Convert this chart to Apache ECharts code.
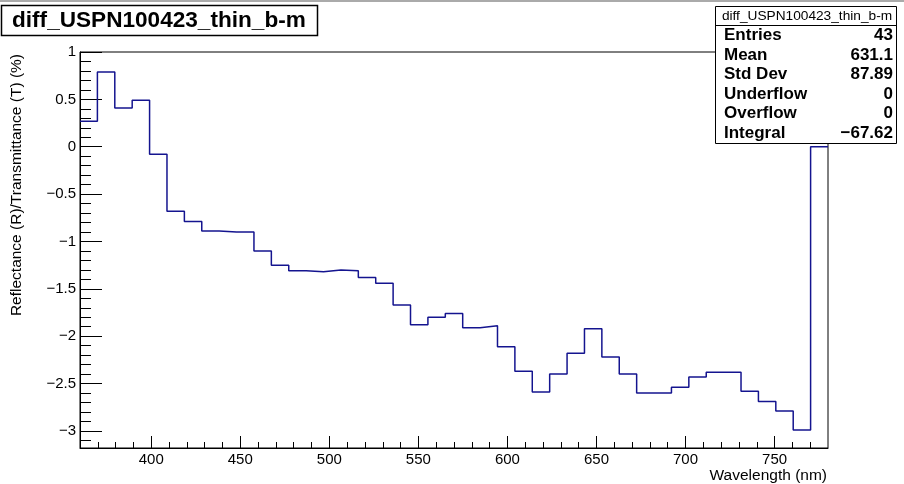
<!DOCTYPE html>
<html>
<head>
<meta charset="utf-8">
<title>diff_USPN100423_thin_b-m</title>
<script src="https://cdn.jsdelivr.net/npm/echarts@6/dist/echarts.min.js"></script>
<style>
  html, body { margin: 0; padding: 0; background: #fff; }
  #chart { width: 904px; height: 484px; }
</style>
</head>
<body>
<div id="chart"></div>
<script>
// histogram binning: 43 equal bins between these edges (nm)
const binLow = 360
const binHigh = 780
const binValues = [
  0.27, 0.79, 0.41, 0.49, -0.08, -0.68, -0.79, -0.89, -0.90, -0.90,
  -1.10, -1.25, -1.31, -1.32, -1.30, -1.31, -1.38, -1.44, -1.67, -1.88,
  -1.80, -1.76, -1.91, -1.89, -2.11, -2.37, -2.59, -2.40, -2.18, -1.92,
  -2.22, -2.40, -2.60, -2.60, -2.54, -2.43, -2.38, -2.38, -2.58, -2.69,
  -2.79, -2.99, 0
]

const yMin = -3.18
const yMax = 1

const xMajorTicks = [400, 450, 500, 550, 600, 650, 700, 750]
const xMinorTicks = [370, 380, 390, 410, 420, 430, 440, 460, 470, 480, 490,
  510, 520, 530, 540, 560, 570, 580, 590, 610, 620, 630, 640, 660, 670, 680,
  690, 710, 720, 730, 740, 760, 770]
const yMajorTicks = [-3, -2.5, -2, -1.5, -1, -0.5, 0, 0.5, 1]

const histName = 'diff_USPN100423_thin_b-m'
const statNames = ['Entries', 'Mean', 'Std Dev', 'Underflow', 'Overflow', 'Integral']
const statValues = ['43', '631.1', '87.89', '0', '0', '\u221267.62']

const xTitle = 'Wavelength (nm)'
const yTitle = 'Reflectance (R)/Transmittance (T) (%)'

const FONT = "'Liberation Sans', Arial, Helvetica, sans-serif"

// minor y ticks every 0.1 between the labelled ones
const yMinorTicks = []
for (const t of yMajorTicks.concat([-3.5])) {
  for (let k = 1; k <= 4; k++) {
    const v = Math.round((t + k * 0.1) * 10) / 10
    if (v > yMin && v < yMax && !yMajorTicks.includes(v)) yMinorTicks.push(v)
  }
}

// outline points: low edge of each bin, plus the upper edge of the last one
const binWidth = (binHigh - binLow) / binValues.length
const outline = binValues.map((v, i) => [binLow + i * binWidth, v])
outline.push([binHigh, binValues[binValues.length - 1]])

const minus = (v) => String(v).replace('-', '\u2212')

const chart = echarts.init(document.getElementById('chart'), null, { renderer: 'canvas' })

const gridBox = { left: 80, top: 52, right: 76, bottom: 36 }

const statRows = []
statNames.forEach((name, i) => {
  const y = 35.5 + i * 19.5
  statRows.push({
    type: 'text', x: 724, y: y,
    style: { text: name, font: 'bold 17px ' + FONT, fill: '#000', verticalAlign: 'middle', align: 'left' }
  })
  statRows.push({
    type: 'text', x: 893, y: y,
    style: { text: statValues[i], font: 'bold 17px ' + FONT, fill: '#000', verticalAlign: 'middle', align: 'right' }
  })
})

chart.setOption({
  animation: false,
  backgroundColor: '#fff',
  grid: [
    Object.assign({ show: true, borderColor: '#000', borderWidth: 1, backgroundColor: 'transparent' }, gridBox),
    Object.assign({ show: false }, gridBox)
  ],
  xAxis: [
    {
      gridIndex: 0, type: 'value', min: binLow, max: binHigh,
      axisLine: { onZero: false, lineStyle: { color: '#000', width: 1 } },
      axisTick: { inside: true, length: 12, customValues: xMajorTicks, lineStyle: { color: '#000' } },
      axisLabel: { customValues: xMajorTicks, margin: 4, color: '#000', fontSize: 15, fontFamily: FONT },
      splitLine: { show: false }
    },
    {
      gridIndex: 1, type: 'value', min: binLow, max: binHigh,
      axisLine: { show: false, onZero: false },
      axisTick: { inside: true, length: 6, customValues: xMinorTicks, lineStyle: { color: '#000' } },
      axisLabel: { show: false },
      splitLine: { show: false }
    }
  ],
  yAxis: [
    {
      gridIndex: 0, type: 'value', min: yMin, max: yMax,
      axisLine: { show: true, onZero: false, lineStyle: { color: '#000', width: 1 } },
      axisTick: { show: true, inside: true, length: 22, customValues: yMajorTicks, lineStyle: { color: '#000' } },
      axisLabel: { customValues: yMajorTicks, margin: 4, color: '#000', fontSize: 15, fontFamily: FONT, formatter: minus },
      splitLine: { show: false }
    },
    {
      gridIndex: 1, type: 'value', min: yMin, max: yMax,
      axisLine: { show: false, onZero: false },
      axisTick: { show: true, inside: true, length: 11, customValues: yMinorTicks, lineStyle: { color: '#000' } },
      axisLabel: { show: false },
      splitLine: { show: false }
    }
  ],
  series: [
    {
      name: histName,
      type: 'line',
      xAxisIndex: 0,
      yAxisIndex: 0,
      step: 'end',
      data: outline,
      showSymbol: false,
      silent: true,
      lineStyle: { color: '#14148f', width: 1.5 }
    }
  ],
  graphic: [
    // canvas edge
    { type: 'line', shape: { x1: 0, y1: 1, x2: 904, y2: 1 }, style: { stroke: '#aaa', lineWidth: 2 } },
    // title box
    { type: 'rect', shape: { x: 1.5, y: 5.5, width: 316, height: 30 }, style: { fill: '#fff', stroke: '#000', lineWidth: 1.5 } },
    { type: 'text', x: 12, y: 21, style: { text: histName, font: 'bold 22.6px ' + FONT, fill: '#000', verticalAlign: 'middle' } },
    // stats box
    { type: 'rect', shape: { x: 715.5, y: 6.5, width: 181, height: 137 }, style: { fill: '#fff', stroke: '#000', lineWidth: 1 } },
    { type: 'line', shape: { x1: 715.5, y1: 25.5, x2: 896.5, y2: 25.5 }, style: { stroke: '#000', lineWidth: 1 } },
    { type: 'text', x: 807, y: 16, style: { text: histName, font: '13.7px ' + FONT, fill: '#000', align: 'center', verticalAlign: 'middle' } },
    ...statRows,
    // axis titles
    { type: 'text', x: 827, y: 476, style: { text: xTitle, font: '15.5px ' + FONT, fill: '#000', align: 'right', verticalAlign: 'middle' } },
    { type: 'text', x: 17, y: 54, rotation: Math.PI / 2, style: { text: yTitle, font: '15.5px ' + FONT, fill: '#000', align: 'right', verticalAlign: 'middle' } }
  ]
})
</script>
</body>
</html>
